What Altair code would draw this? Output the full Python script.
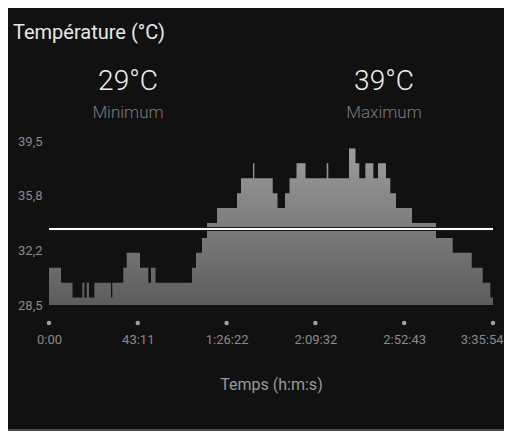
import altair as alt
import pandas as pd

# ---- data ----
times_s = [0, 350, 686, 972, 1030, 1100, 1167, 1322, 1809, 1847, 2168, 2267, 2655, 2897,
           2976, 3107, 4172, 4289, 4464, 4610, 4902, 5485, 5602, 5952, 5990, 6527, 6667,
           6886, 7017, 7221, 7484, 8102, 8149, 8753, 8942, 9053, 9229, 9462, 9599, 9832,
           9958, 10124, 10591, 11291, 11778, 12333, 12654, 12876, 12954]
temps = [31, 30, 29, 30, 29, 30, 29, 30, 29, 30, 31, 32, 31, 30, 31, 30, 31, 32, 33, 34,
         35, 36, 37, 38, 37, 36, 35, 36, 37, 38, 37, 38, 37, 39, 38, 37, 38, 37, 38, 37,
         36, 35, 34, 33, 32, 31, 30, 29, 29]
average = 33.6
x_tick_values = [0, 2590.8, 5181.6, 7772.4, 10363.2, 12954]
x_tick_labels = ["0:00", "43:11", "1:26:22", "2:09:32", "2:52:43", "3:35:54"]
y_tick_values = [28.5, 32.1667, 35.8333, 39.5]
stat_values = ["29°C", "39°C"]
stat_names = ["Minimum", "Maximum"]
title_text = "Température (°C)"
x_title = "Temps (h:m:s)"

W, H = 444, 164
FONT = "Roboto"

df = pd.DataFrame({"t": times_s, "temp": temps})
ticks_df = pd.DataFrame({"t": x_tick_values, "label": x_tick_labels})

label_expr = "[" + ",".join("'%s'" % s for s in x_tick_labels) + "][round(datum.value / %s)]" % x_tick_values[1]
last_test = "datum.value >= %s" % x_tick_values[-1]

xscale = alt.Scale(domain=[0, 12954], nice=False, zero=False)
yscale = alt.Scale(domain=[28.5, 39.5], nice=False, zero=False)

xaxis = alt.Axis(values=x_tick_values, labelExpr=label_expr, ticks=False, tickSize=0,
                 domain=False, grid=False, labelFlush=False, labelOverlap=False,
                 labelAlign={"condition": {"test": last_test, "value": "right"}, "value": "center"},
                 labelOffset={"condition": {"test": last_test, "value": 10}, "value": 0},
                 labelPadding=28, labelColor="#8a8a8a", labelFontSize=13, labelFont=FONT,
                 title=x_title, titleFont=FONT, titleFontSize=16, titleFontWeight="normal",
                 titleColor="#9a9a9a", titlePadding=30)
yaxis = alt.Axis(values=y_tick_values,
                 labelExpr="replace(format(datum.value, '.1f'), '.', ',')",
                 ticks=False, tickSize=0, domain=False, grid=False, labelPadding=7,
                 labelColor="#8a8a8a", labelFontSize=13, labelFont=FONT, title=None)

gradient = alt.Gradient(gradient="linear",
                        stops=[alt.GradientStop(color="#9c9c9c", offset=0),
                               alt.GradientStop(color="#5c5c5c", offset=1)],
                        x1=0, x2=0, y1=0, y2=1)

area = alt.Chart(df).mark_area(interpolate="step-after", color=gradient).encode(
    x=alt.X("t:Q", scale=xscale, axis=xaxis),
    y=alt.Y("temp:Q", scale=yscale, axis=yaxis),
    y2=alt.datum(28.5),
)

avg_df = pd.DataFrame({"avg": [average]})
avg_shadow = alt.Chart(avg_df).mark_rule(color="#1a1a1a", strokeWidth=4).encode(
    y=alt.Y("avg:Q", scale=yscale), x=alt.value(0), x2=alt.value(W))
avg_line = alt.Chart(avg_df).mark_rule(color="#ffffff", strokeWidth=2).encode(
    y=alt.Y("avg:Q", scale=yscale), x=alt.value(0), x2=alt.value(W))

dots = alt.Chart(ticks_df).mark_circle(size=20, color="#a0a0a0", opacity=1).encode(
    x=alt.X("t:Q", scale=xscale), y=alt.value(H + 18))

one = pd.DataFrame({"a": [0]})
title = alt.Chart(one).mark_text(text=title_text, align="left", baseline="alphabetic",
                                 font=FONT, fontSize=20, color="#e8e8e8").encode(
    x=alt.value(-36), y=alt.value(-102.5))

layers = [area, avg_shadow, avg_line, dots, title]
for i, cx in enumerate([79, 335]):
    layers.append(alt.Chart(one).mark_text(text=stat_values[i], align="center",
                                           baseline="alphabetic", font=FONT, fontSize=28,
                                           fontWeight=300, color="#f0f0f0").encode(
        x=alt.value(cx), y=alt.value(-51)))
    layers.append(alt.Chart(one).mark_text(text=stat_names[i], align="center",
                                           baseline="alphabetic", font=FONT, fontSize=17,
                                           fontWeight=300, color="#7a7a7a").encode(
        x=alt.value(cx), y=alt.value(-23)))

bottom_line = alt.Chart(one).mark_rule(color="#4a4a4a", strokeWidth=2).encode(
    x=alt.value(-41), x2=alt.value(455), y=alt.value(289))
layers.append(bottom_line)

chart = alt.layer(*layers).properties(
    width=W, height=H,
    autosize=alt.AutoSizeParams(type="none"),
    padding={"left": 41, "top": 133, "right": 11, "bottom": 126},
    background="#111111",
).configure_view(stroke=None)

chart.save("out.html", embed_options={"renderer": "svg", "actions": False})
